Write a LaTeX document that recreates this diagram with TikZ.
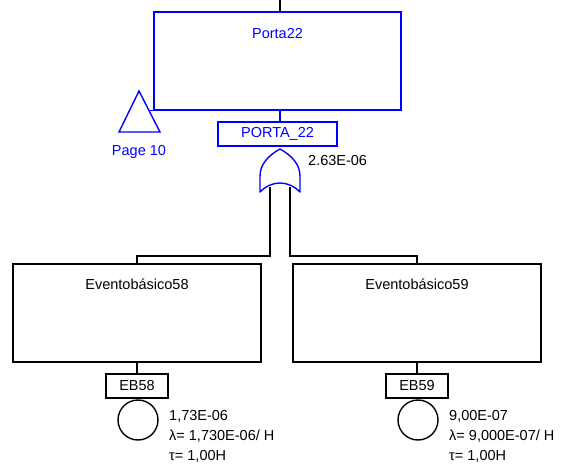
\documentclass[tikz,border=0pt]{standalone}
\usepackage{fontspec}
\setmainfont{Liberation Sans}
\usetikzlibrary{positioning,calc}
\definecolor{ftblue}{RGB}{0,0,255}

\begin{document}
\begin{tikzpicture}[x=1pt, y=-1pt,
  lbl/.style={font=\fontsize{14.5}{17}\selectfont, inner sep=1pt},
  gatebox/.style={rectangle, draw=ftblue, line width=1.4pt, text=ftblue, minimum width=247pt, minimum height=98pt, inner sep=0pt},
  eventbox/.style={rectangle, draw, line width=1.4pt, minimum width=248pt, minimum height=98pt, inner sep=0pt},
  tagbox/.style={rectangle, draw, line width=1.4pt, minimum width=62pt, minimum height=24pt, inner sep=0pt, lbl},
  basic/.style={circle, draw, line width=1.4pt, minimum size=40pt, inner sep=0pt},
  conn/.style={line width=1.4pt},
  bconn/.style={line width=1.4pt, ftblue}
]
  \useasboundingbox (0,0) rectangle (564,470);

  % top gate
  \coordinate (topin) at (280,0);
  \node[gatebox, label={[lbl, text=ftblue, anchor=center, yshift=-22pt]north:Porta22}] (porta) at (277.5,61) {};
  \node[tagbox, draw=ftblue, text=ftblue, minimum width=119pt] (tag22) at (277.5,134) {PORTA\_22};
  \draw[conn] (topin) -- (topin |- porta.north);
  \draw[bconn] (280,110) -- (280,122);

  % transfer triangle
  \draw[bconn] (139,91) -- (160,132) -- (119,132) -- cycle;
  \draw[bconn] (150,110.5) -- (158,110.5);
  \node[lbl, text=ftblue] (page) at (139,152) {Page 10};

  % OR gate
  \coordinate (gin1) at (270,187);
  \coordinate (gin2) at (290,187);
  \draw[bconn, line join=round] (280,149) .. controls (291,155) and (300,164) .. (300,176) -- (300,192)
    .. controls (294,186) and (287,183) .. (280,183) .. controls (273,183) and (266,186) .. (260,192)
    -- (260,176) .. controls (260,164) and (269,155) .. (280,149);
  \node[lbl, anchor=west] (prob22) at (307,161) {2.63E-06};

  % basic events
  \node[eventbox, label={[lbl, anchor=center, yshift=-21pt]north:Eventobásico58}] (ev58) at (137,313) {};
  \node[eventbox, label={[lbl, anchor=center, yshift=-21pt]north:Eventobásico59}] (ev59) at (417,313) {};
  \draw[conn] (gin1) -- ++(0,69) -| (ev58.north);
  \draw[conn] (gin2) -- ++(0,69) -| (ev59.north);

  \node[tagbox] (eb58) at (137,386) {EB58};
  \node[tagbox] (eb59) at (417,386) {EB59};
  \draw[conn] (ev58.south) -- (eb58.north);
  \draw[conn] (ev59.south) -- (eb59.north);

  \node[basic] (c58) at (138,420) {};
  \node[basic] (c59) at (418,420) {};

  \node[lbl, anchor=west, align=left] (d58) at (168,436) {1,73E-06\\[3pt]λ= 1,730E-06/ H\\[3pt]τ= 1,00H};
  \node[lbl, anchor=west, align=left] (d59) at (448,436) {9,00E-07\\[3pt]λ= 9,000E-07/ H\\[3pt]τ= 1,00H};
\end{tikzpicture}
\end{document}
